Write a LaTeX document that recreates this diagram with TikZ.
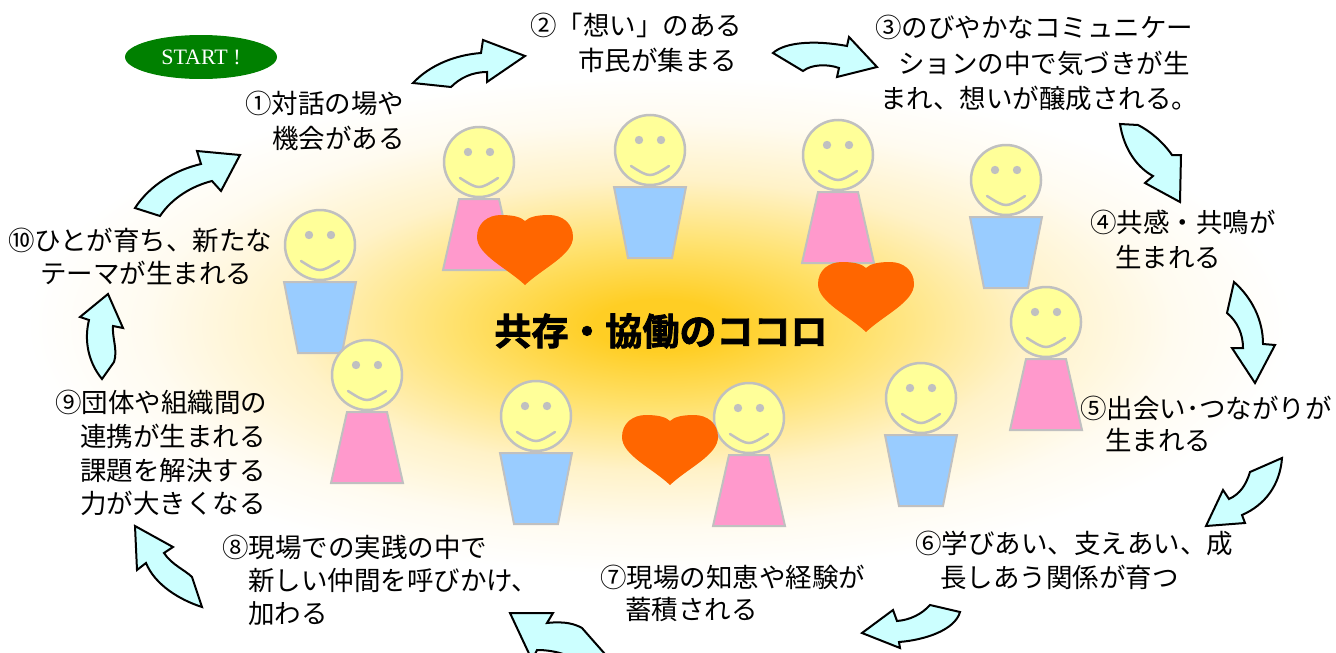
\documentclass[tikz,border=0pt]{standalone}
\usepackage{fontspec}
\usetikzlibrary{shapes.geometric}
\newfontfamily\jp{Noto Sans CJK JP}
\newfontfamily\jpheavy{Noto Sans CJK JP}[UprightFont={* Bold},FakeBold=2.2]
\newfontfamily\startfont{Liberation Serif}

\definecolor{headfill}{HTML}{FFFF99}
\definecolor{outl}{HTML}{C0C0C0}
\definecolor{pinkb}{HTML}{FF99CC}
\definecolor{blueb}{HTML}{99CCFF}
\definecolor{heartc}{HTML}{FF6600}
\definecolor{arrowc}{HTML}{CCFFFF}
\definecolor{startg}{HTML}{008000}
\definecolor{glowA}{RGB}{255,206,36}
\definecolor{glowB}{RGB}{255,226,112}
\definecolor{glowC}{RGB}{255,242,200}
\definecolor{glowD}{RGB}{255,251,240}

% warm glow behind the crowd; the ellipse rim sits at about 25bp of the shading
\pgfdeclareradialshading{glow}{\pgfpoint{0bp}{0bp}}{color(0bp)=(glowA); color(2.5bp)=(glowA); color(8bp)=(glowB); color(14bp)=(glowC); color(19.5bp)=(glowD); color(24bp)=(white); color(50bp)=(white)}

\begin{document}
\begin{tikzpicture}[x=1pt,y=-1pt,
  lbl/.style={font=\jp\fontsize{26.5}{30}\selectfont, anchor=base west, inner sep=0pt},
  blockarrow/.style={fill=arrowc, draw=black, line width=2pt, line join=miter},
  smiley/.pic={
    \filldraw[fill=headfill, draw=outl, line width=2.5pt] (0,0) circle[radius=35];
    \fill[outl] (-11,-10) circle[radius=4.2] (11,-10) circle[radius=4.2];
    \draw[outl, line width=2.5pt, line cap=round] (-19,16) .. controls (0,28) .. (19,16);
  },
  girl/.pic={
    \filldraw[fill=pinkb, draw=outl, line width=2pt] (-20,37) -- (20,37) -- (36,108) -- (-36,108) -- cycle;
    \pic {smiley};
  },
  boy/.pic={
    \filldraw[fill=blueb, draw=outl, line width=2pt] (-36,37) -- (36,37) -- (22,108) -- (-22,108) -- cycle;
    \pic {smiley};
  },
  heart/.pic={
    \fill[heartc] (0,35) .. controls (-18,18) and (-48,5) .. (-48,-13)
      .. controls (-48,-27) and (-37,-35) .. (-24,-35)
      .. controls (-12,-35) and (-4,-33) .. (0,-29)
      .. controls (4,-33) and (12,-35) .. (24,-35)
      .. controls (37,-35) and (48,-27) .. (48,-13)
      .. controls (48,5) and (18,18) .. (0,35) -- cycle;
  }
]
\useasboundingbox (0,0) rectangle (1336,653);
\clip (0,0) rectangle (1336,653);
\fill[white] (0,0) rectangle (1336,653);
\shade[shading=glow] (660,325) ellipse [x radius=660, y radius=260];

% people
\pic at (479,162) {girl};
\pic at (650,150) {boy};
\pic at (838,155) {girl};
\pic at (1006,180) {boy};
\pic at (320,245) {boy};
\pic at (367,375) {girl};
\pic at (1046,322) {girl};
\pic at (536,416) {boy};
\pic at (749,418) {girl};
\pic at (921,398) {boy};

% hearts
\pic at (525,250) {heart};
\pic at (866,297) {heart};
\pic at (670,450) {heart};

\node[font=\jpheavy\fontsize{37}{40}\selectfont, inner sep=0pt] (motto) at (661,331) {共存・協働のココロ};

% cycle of curved arrows
\draw[blockarrow] (413,83) .. controls (430,65) and (455,55) .. (481,53) -- (483,40) -- (525,56) -- (487,82) -- (487,72)
  .. controls (472,72) and (460,78) .. (451,87) -- cycle;
\draw[blockarrow] (773,53) .. controls (785,42) and (815,40) .. (847,46) -- (849,37) -- (877,67) -- (837,77) -- (839,68)
  .. controls (828,64) and (812,64) .. (803,71) -- cycle;
\draw[blockarrow] (1120,124) -- (1138,125) .. controls (1150,131) and (1163,142) .. (1172,155) -- (1181,155) -- (1180,202)
  -- (1145,183) -- (1153,176) .. controls (1138,168) and (1124,150) .. (1120,124) -- cycle;
\draw[blockarrow] (1234,282) -- (1227,313) .. controls (1238,322) and (1243,335) .. (1243,348) -- (1232,348) -- (1255,383)
  -- (1275,345) -- (1263,344) .. controls (1263,320) and (1252,298) .. (1234,282) -- cycle;
\draw[blockarrow] (1282,458) -- (1250,472) .. controls (1246,485) and (1240,494) .. (1229,499) -- (1223,490) -- (1206,526)
  -- (1245,523) -- (1242,515) .. controls (1265,505) and (1280,485) .. (1282,458) -- cycle;
\draw[blockarrow] (930,605) -- (960,612) .. controls (955,630) and (925,640) .. (899,642) -- (900,648) -- (862,633)
  -- (893,610) -- (897,621) .. controls (910,620) and (922,614) .. (930,605) -- cycle;
\draw[blockarrow] (510,613) -- (553,613) -- (547,623) .. controls (565,621) and (575,624) .. (582,628) -- (612,662)
  -- (592,672) .. controls (575,655) and (555,650) .. (537,650) -- (532,660) -- cycle;
\draw[blockarrow] (135,526) -- (173,547) -- (164,553) .. controls (172,565) and (185,570) .. (192,577) -- (202,607)
  .. controls (180,600) and (155,585) .. (146,563) -- (137,570) -- cycle;
\draw[blockarrow] (108,294) -- (123,328) -- (113,326) .. controls (112,338) and (118,350) .. (114,362) -- (102,379)
  .. controls (88,362) and (84,340) .. (89,320) -- (80,317) -- cycle;
\draw[blockarrow] (135,208) .. controls (150,185) and (175,170) .. (201,164) -- (197,151) -- (240,155) -- (221,191)
  -- (212,181) .. controls (192,186) and (172,198) .. (160,216) -- cycle;

% start badge
\node[ellipse, fill=startg, minimum width=152pt, minimum height=44pt, inner sep=0pt,
  font=\startfont\fontsize{22}{24}\selectfont, text=white] (start) at (201,57) {START !};

% step labels
\node[lbl] (l1a) at (245,113) {①対話の場や};
\node[lbl] (l1b) at (272,148) {機会がある};
\node[lbl] (l2a) at (530,35) {②「想い」のある};
\node[lbl] (l2b) at (578,70) {市民が集まる};
\node[lbl] (l3a) at (875,37) {③のびやかなコミュニケー};
\node[lbl] (l3b) at (898,73) {ションの中で気づきが生};
\node[lbl] (l3c) at (880,108) {まれ、想いが醸成される。};
\node[lbl] (l4a) at (1090,232) {④共感・共鳴が};
\node[lbl] (l4b) at (1115,267) {生まれる};
\node[lbl] (l5a) at (1080,418) {⑤出会い･つながりが};
\node[lbl] (l5b) at (1105,450) {生まれる};
\node[lbl] (l6a) at (915,553) {⑥学びあい、支えあい、成};
\node[lbl] (l6b) at (940,587) {長しあう関係が育つ};
\node[lbl] (l7a) at (600,587) {⑦現場の知恵や経験が};
\node[lbl] (l7b) at (625,619) {蓄積される};
\node[lbl] (l8a) at (222,557) {⑧現場での実践の中で};
\node[lbl] (l8b) at (248,590) {新しい仲間を呼びかけ、};
\node[lbl] (l8c) at (248,623) {加わる};
\node[lbl] (l9a) at (55,412) {⑨団体や組織間の};
\node[lbl] (l9b) at (80,446) {連携が生まれる};
\node[lbl] (l9c) at (80,480) {課題を解決する};
\node[lbl] (l9d) at (80,513) {力が大きくなる};
\node[lbl] (l10a) at (8,250) {⑩ひとが育ち、新たな};
\node[lbl] (l10b) at (40,283) {テーマが生まれる};
\end{tikzpicture}
\end{document}
